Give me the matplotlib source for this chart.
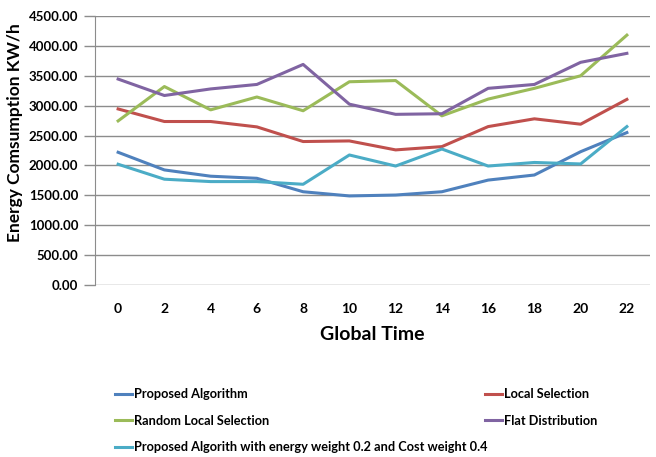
import matplotlib
matplotlib.use("Agg")
import matplotlib.pyplot as plt
from matplotlib.ticker import FormatStrFormatter

plt.rcParams['font.family'] = ['Lato', 'DejaVu Sans']

times = ["0", "2", "4", "6", "8", "10", "12", "14", "16", "18", "20", "22"]
proposed = [2220, 1925, 1820, 1785, 1560, 1490, 1505, 1560, 1755, 1840, 2230, 2550]
local_sel = [2945, 2735, 2735, 2645, 2400, 2410, 2260, 2315, 2650, 2780, 2690, 3105]
random_local = [2745, 3320, 2930, 3145, 2915, 3400, 3420, 2830, 3110, 3290, 3500, 4180]
flat = [3445, 3170, 3280, 3355, 3690, 3025, 2855, 2865, 3290, 3355, 3725, 3875]
proposed_w = [2020, 1770, 1730, 1730, 1685, 2175, 1990, 2275, 1990, 2050, 2025, 2650]

names = ["Proposed Algorithm", "Local Selection", "Random Local Selection",
         "Flat Distribution", "Proposed Algorith with energy weight 0.2 and Cost weight 0.4"]
colors = ["#4F81BD", "#C0504D", "#9BBB59", "#8064A2", "#4BACC6"]

fig = plt.figure(figsize=(6.56, 4.57), dpi=100)
ax = fig.add_axes([95/656, 1 - 285/457, (650-95)/656, (285-16)/457])

x = list(range(len(times)))
series = [proposed, local_sel, random_local, flat, proposed_w]
lines = []
for vals, nm, c in zip(series, names, colors):
    ln, = ax.plot(x, vals, color=c, lw=2.2, label=nm, solid_joinstyle='round')
    lines.append(ln)

ax.set_xlim(-0.5, len(times) - 0.5)
ax.set_ylim(0, 4500)
ax.set_yticks(range(0, 4501, 500))
ax.yaxis.set_major_formatter(FormatStrFormatter('%.2f'))
ax.set_xticks(x)
ax.set_xticklabels(times)
ax.grid(axis='y', color='#8C8C8C', lw=1)
ax.set_axisbelow(True)
for s in ['top', 'right', 'bottom']:
    ax.spines[s].set_visible(False)
ax.spines['left'].set_color('#8C8C8C')
ax.tick_params(axis='y', length=8, width=1, color='#8C8C8C', labelsize=9.5, pad=4)
ax.tick_params(axis='x', length=0, labelsize=10, pad=13)
for lab in ax.get_xticklabels() + ax.get_yticklabels():
    lab.set_fontweight('bold')

ax.set_xlabel("Global Time", fontsize=14, fontweight='bold', labelpad=8)
ax.set_ylabel("Energy Comsumption KW/h", fontsize=12.5, fontweight='bold')
ax.yaxis.set_label_coords(-0.13, 0.565)

leg_kw = dict(frameon=False, fontsize=9.2, handlelength=1.3, handletextpad=0.15,
              labelspacing=1.15, borderaxespad=0, borderpad=0)
leg1 = fig.legend([lines[0], lines[2], lines[4]], [names[0], names[2], names[4]],
                  loc='upper left', bbox_to_anchor=(115/656, 1 - 388/457), **leg_kw)
leg2 = fig.legend([lines[1], lines[3]], [names[1], names[3]],
                  loc='upper left', bbox_to_anchor=(485/656, 1 - 388/457), **leg_kw)
for leg in (leg1, leg2):
    for t in leg.get_texts():
        t.set_fontweight('bold')

fig.savefig("out.png", dpi=100)
